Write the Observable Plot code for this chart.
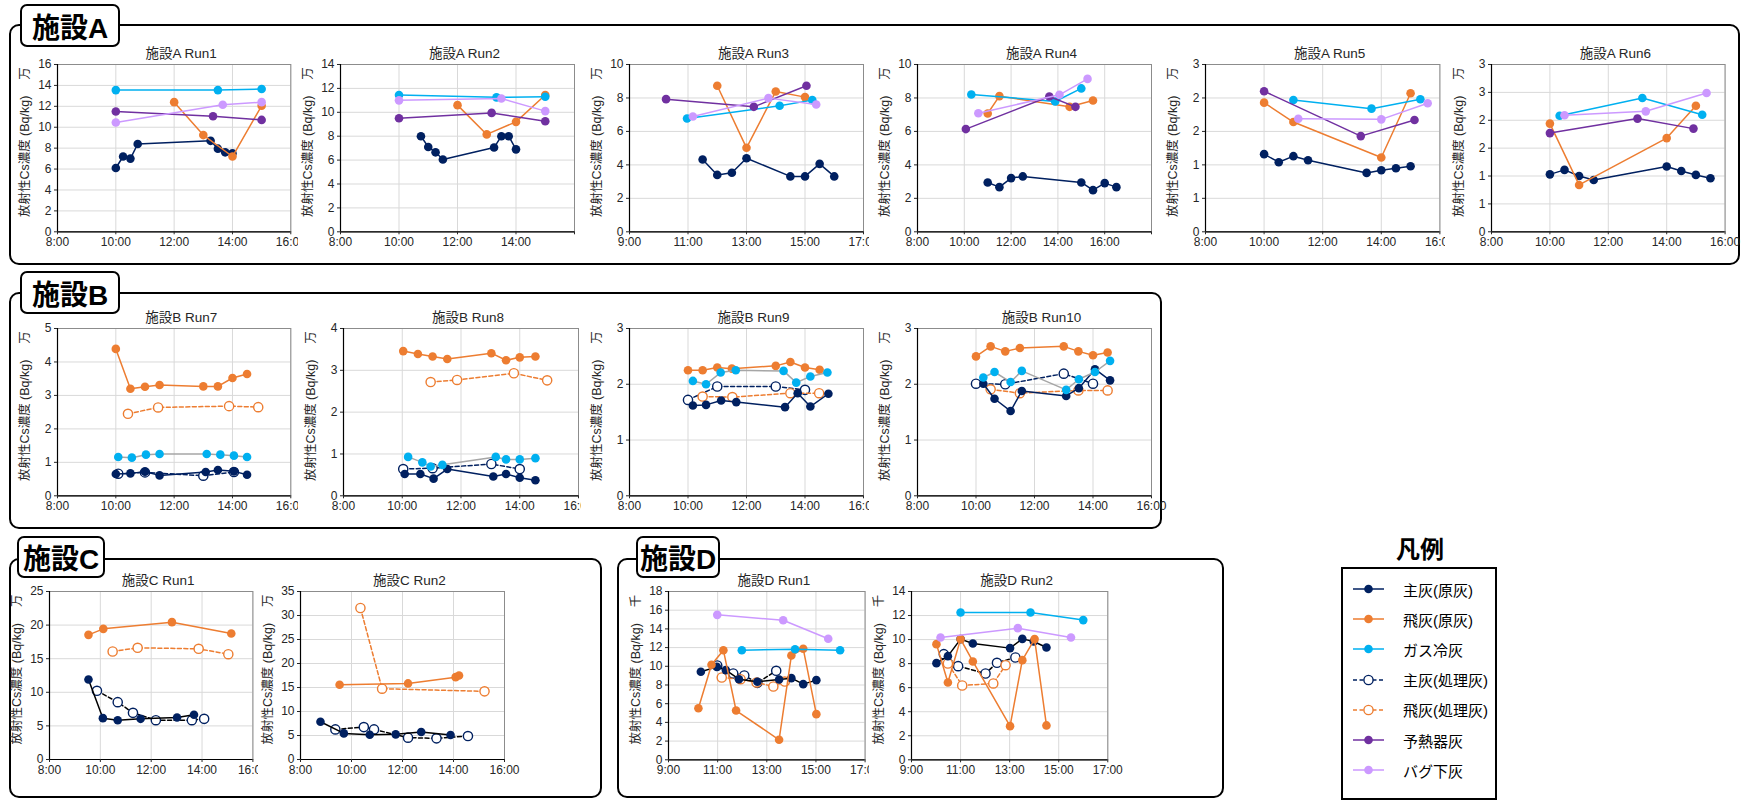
<!DOCTYPE html>
<html><head><meta charset="utf-8">
<script src="https://cdn.jsdelivr.net/npm/d3@7"></script>
<script src="https://cdn.jsdelivr.net/npm/@observablehq/plot@0.6"></script>
<style>
body{margin:0;background:#fff;font-family:"Liberation Sans","Noto Sans CJK JP",sans-serif;color:#000;}
#root{position:relative;width:1742px;height:803px;overflow:hidden;background:#fff;}
.group{position:absolute;border:2px solid #000;border-radius:10px;box-sizing:border-box;}
.tag{position:absolute;border:2px solid #000;border-radius:7px;background:#fff;box-sizing:border-box;font-weight:bold;font-size:28px;display:flex;align-items:center;justify-content:center;font-family:"Liberation Sans","Noto Sans CJK JP",sans-serif;}
.panel{position:absolute;}
.panel svg{overflow:hidden;}
#legend{position:absolute;border:2px solid #000;box-sizing:border-box;background:#fff;}
.lrow{position:absolute;left:0;height:20px;display:flex;align-items:center;font-size:15px;}
</style></head>
<body><div id="root"></div>
<script>
// ---------------- series ----------------
const SERIES = ["主灰(原灰)","飛灰(原灰)","ガス冷灰","主灰(処理灰)","飛灰(処理灰)","予熱器灰","バグ下灰"];
const SERIES_COLORS = ["#002060","#ED7D31","#00B0F0","#002060","#ED7D31","#7030A0","#CC99FF"];
const SERIES_OPEN = [false,false,false,true,true,false,false];
const DRAW_ORDER = [3,4,0,1,2,5,6];
const Y_LABEL = "放射性Cs濃度 (Bq/kg)";

// ---------------- data: [time, value] ----------------
// 施設A Run1 (万)
const A1_main = [["10:00",6.1],["10:15",7.2],["10:30",7.0],["10:45",8.4],["13:15",8.7],["13:30",7.95],["13:45",7.6],["14:00",7.5]];
const A1_fly  = [["12:00",12.4],["13:00",9.25],["14:00",7.2],["15:00",12.05]];
const A1_gas  = [["10:00",13.55],["13:30",13.55],["15:00",13.65]];
const A1_pre  = [["10:00",11.5],["13:20",11.05],["15:00",10.7]];
const A1_bag  = [["10:00",10.45],["13:40",12.15],["15:00",12.4]];
// 施設A Run2
const A2_main = [["10:45",8.0],["11:00",7.1],["11:15",6.65],["11:30",6.05],["13:15",7.05],["13:30",8.0],["13:45",8.0],["14:00",6.9]];
const A2_fly  = [["12:00",10.6],["13:00",8.15],["14:00",9.2],["15:00",11.45]];
const A2_gas  = [["10:00",11.45],["13:20",11.25],["15:00",11.3]];
const A2_pre  = [["10:00",9.5],["13:10",9.95],["15:00",9.25]];
const A2_bag  = [["10:00",11.0],["13:30",11.15],["15:00",10.1]];
// 施設A Run3
const A3_main = [["11:30",4.32],["12:00",3.4],["12:30",3.53],["13:00",4.4],["14:30",3.31],["15:00",3.31],["15:30",4.06],["16:00",3.31]];
const A3_fly  = [["12:00",8.73],["13:00",5.02],["14:00",8.39],["15:00",8.05]];
const A3_gas  = [["10:58",6.77],["14:08",7.53],["15:15",7.87]];
const A3_pre  = [["10:15",7.93],["13:15",7.47],["15:03",8.73]];
const A3_bag  = [["11:10",6.89],["13:45",7.99],["15:23",7.61]];
// 施設A Run4
const A4_main = [["11:00",2.95],["11:30",2.67],["12:00",3.21],["12:30",3.31],["15:00",2.95],["15:30",2.49],["16:00",2.91],["16:30",2.67]];
const A4_fly  = [["11:00",7.07],["11:30",8.11],["14:30",7.47],["15:30",7.85]];
const A4_gas  = [["10:18",8.21],["13:53",7.79],["15:00",8.57]];
const A4_pre  = [["10:04",6.14],["13:38",8.09],["14:45",7.47]];
const A4_bag  = [["10:36",7.09],["14:04",8.19],["15:16",9.14]];
// 施設A Run5
const A5_main = [["10:00",1.16],["10:30",1.04],["11:00",1.13],["11:30",1.07],["13:30",0.88],["14:00",0.92],["14:30",0.95],["15:00",0.98]];
const A5_fly  = [["10:00",1.93],["11:00",1.64],["14:00",1.11],["15:00",2.07]];
const A5_gas  = [["11:00",1.97],["13:40",1.84],["15:20",1.98]];
const A5_pre  = [["10:00",2.10],["13:18",1.43],["15:08",1.67]];
const A5_bag  = [["11:10",1.69],["14:00",1.68],["15:35",1.92]];
// 施設A Run6
const A6_main = [["10:00",1.03],["10:30",1.11],["11:00",1.0],["11:30",0.93],["14:00",1.17],["14:30",1.09],["15:00",1.02],["15:30",0.96]];
const A6_fly  = [["10:00",1.94],["11:00",0.84],["14:00",1.68],["15:00",2.26]];
const A6_gas  = [["10:20",2.08],["13:10",2.40],["15:13",2.10]];
const A6_pre  = [["10:00",1.77],["13:00",2.03],["14:55",1.85]];
const A6_bag  = [["10:30",2.09],["13:17",2.16],["15:22",2.49]];
// 施設B Run7
const B7_main  = [["10:00",0.65],["10:30",0.67],["11:00",0.72],["11:30",0.61],["13:05",0.71],["13:30",0.77],["14:03",0.73],["14:30",0.63]];
const B7_fly   = [["10:00",4.39],["10:30",3.2],["11:00",3.26],["11:30",3.31],["13:00",3.27],["13:30",3.27],["14:00",3.52],["14:30",3.64]];
const B7_gas   = [["10:05",1.16],["10:33",1.14],["11:02",1.23],["11:30",1.25],["13:07",1.25],["13:35",1.23],["14:03",1.20],["14:30",1.16]];
const B7_mainT = [["10:05",0.66],["11:00",0.70],["13:00",0.60],["14:03",0.71]];
const B7_flyT  = [["10:25",2.45],["11:27",2.64],["13:53",2.68],["14:53",2.65]];
// 施設B Run8
const B8_main  = [["10:05",0.52],["10:37",0.52],["11:04",0.41],["11:32",0.64],["13:06",0.46],["13:32",0.52],["14:00",0.43],["14:32",0.37]];
const B8_fly   = [["10:02",3.46],["10:32",3.39],["11:02",3.33],["11:32",3.27],["13:02",3.41],["13:32",3.24],["14:00",3.31],["14:32",3.33]];
const B8_gas   = [["10:12",0.93],["10:41",0.80],["10:58",0.70],["11:22",0.74],["13:11",0.93],["13:32",0.87],["14:00",0.87],["14:32",0.90]];
const B8_mainT = [["10:02",0.64],["11:02",0.66],["13:02",0.76],["14:00",0.64]];
const B8_flyT  = [["10:58",2.72],["11:52",2.77],["13:48",2.93],["14:56",2.76]];
// 施設B Run9
const B9_main  = [["10:10",1.62],["10:37",1.63],["11:08",1.71],["11:39",1.68],["13:19",1.59],["13:45",1.84],["14:11",1.60],["14:48",1.83]];
const B9_fly   = [["10:00",2.25],["10:30",2.25],["11:00",2.30],["11:30",2.28],["13:00",2.33],["13:30",2.40],["14:00",2.30],["14:30",2.26]];
const B9_gas   = [["10:10",2.06],["10:37",2.0],["11:07",2.21],["11:38",2.25],["13:16",2.24],["13:42",2.03],["14:11",2.14],["14:46",2.21]];
const B9_mainT = [["10:00",1.72],["11:00",1.96],["13:00",1.96],["14:00",1.90]];
const B9_flyT  = [["10:30",1.78],["11:31",1.77],["13:30",1.84],["14:29",1.84]];
// 施設B Run10
const B10_main  = [["10:15",2.01],["10:38",1.74],["11:11",1.52],["11:34",1.88],["13:05",1.79],["13:31",1.93],["14:04",2.27],["14:35",2.07]];
const B10_fly   = [["10:00",2.50],["10:30",2.68],["11:00",2.59],["11:30",2.65],["13:00",2.68],["13:30",2.59],["14:00",2.52],["14:30",2.57]];
const B10_gas   = [["10:15",2.12],["10:38",2.22],["11:11",2.04],["11:34",2.24],["13:05",1.90],["13:31",2.09],["14:04",2.22],["14:35",2.42]];
const B10_mainT = [["10:00",2.01],["11:00",2.0],["13:00",2.19],["14:00",2.01]];
const B10_flyT  = [["10:30",1.91],["11:30",1.84],["13:30",1.89],["14:30",1.89]];
// 施設C Run1
const C1_main  = [["9:32",11.9],["10:06",6.15],["10:41",5.85],["11:35",6.05],["13:01",6.25],["13:41",6.65]];
const C1_fly   = [["9:32",18.55],["10:07",19.44],["12:49",20.44],["15:09",18.75]];
const C1_mainT = [["9:52",10.22],["10:41",8.53],["11:17",6.94],["12:11",5.85],["13:36",5.85],["14:05",6.05]];
const C1_flyT  = [["10:29",16.07],["11:28",16.62],["13:52",16.47],["15:02",15.67]];
// 施設C Run2
const C2_main  = [["8:47",7.86],["9:42",5.44],["10:43",5.17],["11:44",5.24],["12:44",5.72],["13:53",5.10]];
const C2_fly   = [["9:32",15.58],["12:13",15.85],["14:05",17.16],["14:13",17.5]];
const C2_mainT = [["9:22",6.27],["10:29",6.75],["10:53",6.27],["12:13",4.55],["13:20",4.41],["14:34",4.89]];
const C2_flyT  = [["10:21",31.56],["11:12",14.75],["15:13",14.2]];
// 施設D Run1 (千)
const D1_main  = [["10:19",9.41],["10:58",9.94],["11:20",9.59],["11:52",8.62],["12:37",8.34],["13:30",8.59],["14:00",8.73],["14:29",8.09],["15:01",8.52]];
const D1_fly   = [["10:13",5.52],["10:45",10.16],["11:14",11.72],["11:45",5.27],["13:30",2.14],["14:00",11.15],["14:29",11.87],["15:01",4.88]];
const D1_gas   = [["11:59",11.72],["14:09",11.83],["15:59",11.72]];
const D1_mainT = [["10:59",10.09],["11:38",9.23],["12:05",9.02],["12:37",8.23],["13:23",9.52]];
const D1_flyT  = [["11:10",8.8],["11:56",8.62],["12:35",8.27],["13:16",7.84],["13:44",8.37]];
const D1_bag   = [["10:59",15.5],["13:40",14.93],["15:30",12.94]];
// 施設D Run2
const D2_main  = [["10:01",8.04],["10:29",8.62],["11:00",10.04],["11:30",9.68],["13:01",9.29],["13:31",10.06],["13:59",9.84],["14:30",9.34]];
const D2_fly   = [["10:01",9.62],["10:29",6.43],["11:00",10.04],["11:30",8.18],["13:01",2.80],["13:31",8.29],["14:01",10.04],["14:30",2.86]];
const D2_gas   = [["11:00",12.25],["13:51",12.25],["16:00",11.62]];
const D2_mainT = [["10:19",8.79],["10:54",7.79],["12:01",7.18],["12:29",8.07],["13:14",8.51]];
const D2_flyT  = [["10:29",8.01],["11:04",6.18],["12:20",6.35],["12:50",7.87]];
const D2_bag   = [["10:11",10.17],["13:20",10.95],["15:30",10.17]];

// ---------------- tick labels ----------------
const X_8_16 = [8,10,12,14,16];
const X_8_18 = [8,10,12,14,16,18];
const X_9_17 = [9,11,13,15,17];
const hourLabel = h => `${h}:00`;
const A2_xLabels = ["8:00","10:00","12:00","14:00",""];
const A4_xLabels = ["8:00","10:00","12:00","14:00","16:00",""];
const A5_yTicks = [0,0.5,1,1.5,2,2.5];
const A5_yLabels = ["0","1","1","2","2","3"];
const A6_yTicks = [0,0.5,1,1.5,2,2.5,3];
const A6_yLabels = ["0","1","1","2","2","3","3"];
const seq = (a,b,s) => d3.range(a, b + s/2, s);

// ---------------- panels ----------------
const PANELS = [
  {id:"A1", fac:"A", title:"施設A Run1", unit:"万", xTicks:X_8_16, yTicks:seq(0,16,2), s:[A1_main,A1_fly,A1_gas,null,null,A1_pre,A1_bag]},
  {id:"A2", fac:"A", title:"施設A Run2", unit:"万", xTicks:X_8_16, xLabels:A2_xLabels, yTicks:seq(0,14,2), s:[A2_main,A2_fly,A2_gas,null,null,A2_pre,A2_bag]},
  {id:"A3", fac:"A", title:"施設A Run3", unit:"万", xTicks:X_9_17, yTicks:seq(0,10,2), s:[A3_main,A3_fly,A3_gas,null,null,A3_pre,A3_bag]},
  {id:"A4", fac:"A", title:"施設A Run4", unit:"万", xTicks:X_8_18, xLabels:A4_xLabels, yTicks:seq(0,10,2), s:[A4_main,A4_fly,A4_gas,null,null,A4_pre,A4_bag]},
  {id:"A5", fac:"A", title:"施設A Run5", unit:"万", xTicks:X_8_16, yTicks:A5_yTicks, yLabels:A5_yLabels, s:[A5_main,A5_fly,A5_gas,null,null,A5_pre,A5_bag]},
  {id:"A6", fac:"A", title:"施設A Run6", unit:"万", xTicks:X_8_16, yTicks:A6_yTicks, yLabels:A6_yLabels, s:[A6_main,A6_fly,A6_gas,null,null,A6_pre,A6_bag]},
  {id:"B7", fac:"B", title:"施設B Run7", unit:"万", xTicks:X_8_16, yTicks:seq(0,5,1), s:[B7_main,B7_fly,B7_gas,B7_mainT,B7_flyT,null,null]},
  {id:"B8", fac:"B", title:"施設B Run8", unit:"万", xTicks:X_8_16, yTicks:seq(0,4,1), s:[B8_main,B8_fly,B8_gas,B8_mainT,B8_flyT,null,null]},
  {id:"B9", fac:"B", title:"施設B Run9", unit:"万", xTicks:X_8_16, yTicks:seq(0,3,1), s:[B9_main,B9_fly,B9_gas,B9_mainT,B9_flyT,null,null]},
  {id:"B10", fac:"B", title:"施設B Run10", unit:"万", xTicks:X_8_16, yTicks:seq(0,3,1), s:[B10_main,B10_fly,B10_gas,B10_mainT,B10_flyT,null,null]},
  {id:"C1", fac:"C", title:"施設C Run1", unit:"万", xTicks:X_8_16, yTicks:seq(0,25,5), s:[C1_main,C1_fly,null,C1_mainT,C1_flyT,null,null]},
  {id:"C2", fac:"C", title:"施設C Run2", unit:"万", xTicks:X_8_16, yTicks:seq(0,35,5), s:[C2_main,C2_fly,null,C2_mainT,C2_flyT,null,null]},
  {id:"D1", fac:"D", title:"施設D Run1", unit:"千", xTicks:X_9_17, yTicks:seq(0,18,2), s:[D1_main,D1_fly,D1_gas,D1_mainT,D1_flyT,null,D1_bag]},
  {id:"D2", fac:"D", title:"施設D Run2", unit:"千", xTicks:X_9_17, yTicks:seq(0,14,2), s:[D2_main,D2_fly,D2_gas,D2_mainT,D2_flyT,null,D2_bag]},
];

// line colour overrides per facility (series index -> colour)
const LINE_OVERRIDE = {B:{2:"#A6A6A6"}, C:{0:"#000",3:"#000"}, D:{0:"#000",3:"#000"}};

// ---------------- layout (plot-frame edges in page px) ----------------
const LAYOUT = {
  A1:{x0:56.7,x1:290,y0:63.7,y1:231,mr:8},
  A2:{x0:340,x1:574,y0:63.7,y1:231,mr:10},
  A3:{x0:629.3,x1:863.3,y0:63.7,y1:231,mr:5.5},
  A4:{x0:917.3,x1:1151.3,y0:63.7,y1:231,mr:10},
  A5:{x0:1205.3,x1:1439.7,y0:63.7,y1:231,mr:5.5},
  A6:{x0:1490.7,x1:1724.3,y0:63.7,y1:231,mr:17},
  B7:{x0:56.7,x1:290,y0:327.7,y1:495,mr:8},
  B8:{x0:343.3,x1:578.3,y0:327.7,y1:495,mr:3},
  B9:{x0:629.3,x1:863.3,y0:327.7,y1:495,mr:5.5},
  B10:{x0:917.3,x1:1151.3,y0:327.7,y1:495,mr:20},
  C1:{x0:49.3,x1:252.7,y0:590.7,y1:758.7,mr:5},
  C2:{x0:300,x1:504,y0:590.7,y1:758.7,mr:20},
  D1:{x0:667.7,x1:864.3,y0:590.7,y1:759,mr:4.5},
  D2:{x0:911,x1:1107.3,y0:590.7,y1:759,mr:20},
};

const FONT = '"Liberation Sans","Noto Sans CJK JP",sans-serif';
const TXT = "#262626";
const root = document.getElementById("root");
const hm = s => { const [h, m] = s.split(":").map(Number); return h + m / 60; };

function el(cls, css, html) {
  const d = document.createElement("div");
  d.className = cls;
  Object.assign(d.style, css);
  if (html != null) d.textContent = html;
  root.appendChild(d);
  return d;
}

// group boxes and tags
el("group", {left:"9px", top:"24px", width:"1731px", height:"241px"});
el("group", {left:"9px", top:"292px", width:"1153px", height:"237px"});
el("group", {left:"9px", top:"558px", width:"593px", height:"240px"});
el("group", {left:"617px", top:"558px", width:"607px", height:"240px"});
el("tag", {left:"20px", top:"4px", width:"100px", height:"43px"}, "施設A");
el("tag", {left:"20px", top:"271px", width:"100px", height:"43px"}, "施設B");
el("tag", {left:"17px", top:"536px", width:"88px", height:"42px"}, "施設C");
el("tag", {left:"636px", top:"536px", width:"84px", height:"42px"}, "施設D");

function drawPanel(p) {
  const L = LAYOUT[p.id];
  const ML = 52, MT = 24, MB = 26;
  const w = ML + (L.x1 - L.x0) + L.mr;
  const h = MT + (L.y1 - L.y0) + MB;
  const xLabels = p.xLabels || p.xTicks.map(hourLabel);
  const yLabels = p.yLabels || p.yTicks.map(String);
  const xLab = new Map(p.xTicks.map((t, i) => [t, xLabels[i]]));
  const yLab = new Map(p.yTicks.map((t, i) => [t, yLabels[i]]));
  const marks = [
    Plot.gridX(p.xTicks, {stroke: "#d9d9d9", strokeOpacity: 1}),
    Plot.gridY(p.yTicks, {stroke: "#d9d9d9", strokeOpacity: 1}),
    Plot.frame({stroke: "#8c8c8c"}),
    Plot.ruleX([p.xTicks[0]], {stroke: "#000", strokeWidth: 1.2}),
    Plot.ruleY([p.yTicks[0]], {stroke: "#000", strokeWidth: 1.2}),
    Plot.axisX(p.xTicks, {tickFormat: d => xLab.get(d), tickSize: 3, tickPadding: 3, fontSize: 12, fill: TXT, label: null}),
    Plot.axisY(p.yTicks, {tickFormat: d => yLab.get(d), tickSize: 3, tickPadding: 3, fontSize: 12, fill: TXT, label: null}),
  ];
  const over = LINE_OVERRIDE[p.fac] || {};
  DRAW_ORDER.forEach(k => {
    const arr = p.s[k];
    if (!arr) return;
    const data = arr.map(([t, v]) => ({t: hm(t), v}));
    const c = SERIES_COLORS[k];
    const open = SERIES_OPEN[k];
    marks.push(Plot.line(data, {x: "t", y: "v", stroke: over[k] || c, strokeWidth: 1.5,
      strokeDasharray: open ? "4,2.5" : null}));
    marks.push(Plot.dot(data, {x: "t", y: "v", r: open ? 4.6 : 4.3,
      fill: open ? "#fff" : c, stroke: open ? c : "none", strokeWidth: open ? 1.4 : 0}));
  });
  marks.push(Plot.text([p.title], {text: d => d, frameAnchor: "top", lineAnchor: "middle", textAnchor: "middle",
    dx: 7, dy: -10.5, fontSize: 13.5, fill: TXT}));
  marks.push(Plot.text([`${Y_LABEL}\u3000 ${p.unit}`], {text: d => d, frameAnchor: "left", textAnchor: "middle",
    lineAnchor: "middle", rotate: -90, dx: -33, dy: -6, fontSize: 12.5, fill: TXT}));
  const svg = Plot.plot({
    width: w, height: h,
    marginLeft: ML, marginRight: L.mr, marginTop: MT, marginBottom: MB,
    style: {fontFamily: FONT, fontSize: "12px", background: "transparent", color: TXT, overflow: "hidden"},
    x: {domain: [p.xTicks[0], p.xTicks[p.xTicks.length - 1]]},
    y: {domain: [p.yTicks[0], p.yTicks[p.yTicks.length - 1]]},
    marks
  });
  const holder = el("panel", {left: (L.x0 - ML) + "px", top: (L.y0 - MT) + "px", width: w + "px", height: h + "px"});
  holder.appendChild(svg);
}
PANELS.forEach(drawPanel);

// ---------------- legend ----------------
const LEG = {x:1341, y:567, w:156, h:233};
el("", {position:"absolute", left:"1380px", top:"535px", width:"80px", textAlign:"center",
  fontWeight:"bold", fontSize:"24px", lineHeight:"30px"}, "凡例");
const leg = el("", {position:"absolute", left:LEG.x+"px", top:LEG.y+"px", width:LEG.w+"px", height:LEG.h+"px",
  border:"2px solid #000", boxSizing:"border-box", background:"#fff"});
leg.id = "legend";
SERIES.forEach((name, k) => {
  const row = document.createElement("div");
  row.className = "lrow";
  row.style.top = (10 + k * 30.2) + "px";
  const c = SERIES_COLORS[k], open = SERIES_OPEN[k];
  const ns = "http://www.w3.org/2000/svg";
  const s = document.createElementNS(ns, "svg");
  s.setAttribute("width", "52"); s.setAttribute("height", "20");
  s.style.marginLeft = "8px";
  const ln = document.createElementNS(ns, "line");
  ln.setAttribute("x1", "2"); ln.setAttribute("x2", "33"); ln.setAttribute("y1", "10"); ln.setAttribute("y2", "10");
  ln.setAttribute("stroke", c); ln.setAttribute("stroke-width", "1.5");
  if (open) ln.setAttribute("stroke-dasharray", "4,2.5");
  const ci = document.createElementNS(ns, "circle");
  ci.setAttribute("cx", "17.5"); ci.setAttribute("cy", "10"); ci.setAttribute("r", open ? "4.6" : "4.3");
  ci.setAttribute("fill", open ? "#fff" : c);
  if (open) { ci.setAttribute("stroke", c); ci.setAttribute("stroke-width", "1.4"); }
  s.appendChild(ln); s.appendChild(ci);
  row.appendChild(s);
  const t = document.createElement("span");
  t.textContent = name;
  row.appendChild(t);
  leg.appendChild(row);
});
</script>
</body></html>
